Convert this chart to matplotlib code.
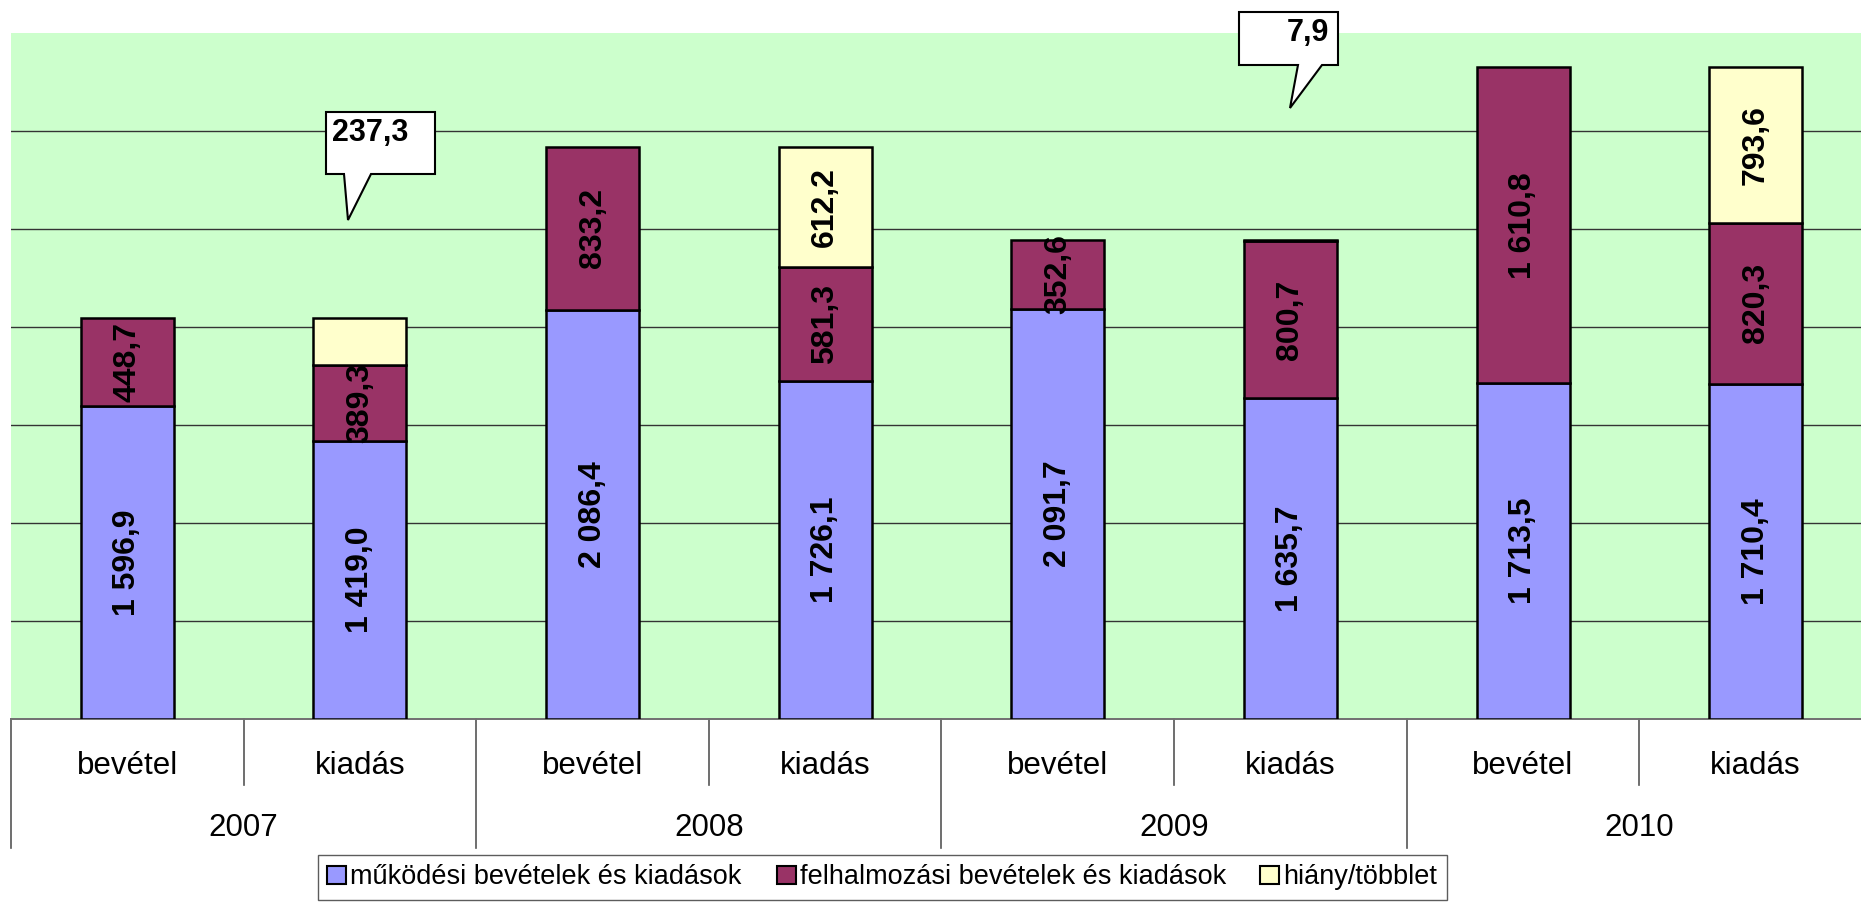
import matplotlib
matplotlib.use("Agg")
import matplotlib.pyplot as plt
from matplotlib.patches import Polygon, Patch
from matplotlib.transforms import blended_transform_factory

# data
years = ["2007", "2008", "2009", "2010"]
kinds = ["bevétel", "kiadás"]
mukodesi = [1596.9, 1419.0, 2086.4, 1726.1, 2091.7, 1635.7, 1713.5, 1710.4]
felhalmozasi = [448.7, 389.3, 833.2, 581.3, 352.6, 800.7, 1610.8, 820.3]
hiany = [0, 237.3, 0, 612.2, 0, 7.9, 0, 793.6]
series_names = ["működési bevételek és kiadások",
                "felhalmozási bevételek és kiadások",
                "hiány/többlet"]
colors = ["#9999FF", "#993366", "#FFFFCC"]

# small deficit values shown in speech-bubble callouts (image pixels)
callouts = {
    1: dict(box=(326, 112, 435, 174), base=(344, 371), tip=(348, 220), ha="left"),
    5: dict(box=(1239, 12, 1338, 65), base=(1298, 1322), tip=(1290, 108), ha="right"),
}

W, H = 1861, 902
plt.rcParams["font.family"] = ["Liberation Sans", "DejaVu Sans"]


def hu(v):
    return f"{v:,.1f}".replace(",", " ").replace(".", ",")


fig = plt.figure(figsize=(W / 100, H / 100), dpi=100)
fig.patch.set_facecolor("white")
ax = fig.add_axes([11 / W, 1 - 719 / H, 1861 / W, 686 / H])
ax.set_facecolor("#CCFFCC")

x = list(range(len(mukodesi)))
bar_w = 0.40
ax.bar(x, mukodesi, bar_w, color=colors[0], edgecolor="black", linewidth=1.8, zorder=3)
ax.bar(x, felhalmozasi, bar_w, bottom=mukodesi, color=colors[1],
       edgecolor="black", linewidth=1.8, zorder=3)
tops = [m + f for m, f in zip(mukodesi, felhalmozasi)]
hx = [i for i in x if hiany[i] > 0]
ax.bar(hx, [hiany[i] for i in hx], bar_w, bottom=[tops[i] for i in hx],
       color=colors[2], edgecolor="black", linewidth=1.8, zorder=3)

# labels inside segments
lab_kw = dict(rotation=90, ha="center", va="center", fontsize=23,
              fontweight="bold", zorder=5)
for i in x:
    ax.text(i, mukodesi[i] / 2, hu(mukodesi[i]), **lab_kw)
    ax.text(i, mukodesi[i] + felhalmozasi[i] / 2, hu(felhalmozasi[i]), **lab_kw)
    if hiany[i] > 0 and i not in callouts:
        ax.text(i, tops[i] + hiany[i] / 2, hu(hiany[i]), **lab_kw)

ax.set_xlim(-0.5, 7.5)
ax.set_ylim(0, 3500)
ax.set_yticks(range(500, 3500, 500))
ax.yaxis.grid(True, color="#333333", linewidth=1.0, zorder=1)
ax.tick_params(left=False, labelleft=False, bottom=False, labelbottom=False)
for s in ["top", "right", "left"]:
    ax.spines[s].set_visible(False)
ax.spines["bottom"].set_color("#707070")
ax.spines["bottom"].set_linewidth(1.4)

# two-level category axis
ah = 686.0
tr = blended_transform_factory(ax.transData, ax.transAxes)
for i in x:
    ax.text(i, -(766 - 719) / ah, kinds[i % 2], transform=tr, ha="center",
            va="center", fontsize=22.5, clip_on=False)
for k, yr in enumerate(years):
    ax.text(2 * k + 0.5, -(828 - 719) / ah, yr, transform=tr, ha="center",
            va="center", fontsize=22.5, clip_on=False)
for k in range(len(years)):
    ax.plot([2 * k + 0.5] * 2, [0, -(785 - 719) / ah], transform=tr,
            color="#555555", lw=1.2, clip_on=False)
for k in range(len(years) + 1):
    ax.plot([2 * k - 0.5] * 2, [0, -(848 - 719) / ah], transform=tr,
            color="#555555", lw=1.2, clip_on=False)


# callout bubbles
def px(p):
    return (p[0] / W, 1 - p[1] / H)


for i, c in callouts.items():
    x0, y0, x1, y1 = c["box"]
    b0, b1 = c["base"]
    pts = [(x0, y0), (x1, y0), (x1, y1), (b1, y1), c["tip"], (b0, y1), (x0, y1)]
    fig.patches.append(Polygon([px(p) for p in pts], closed=True,
                               transform=fig.transFigure, facecolor="white",
                               edgecolor="black", linewidth=1.5, zorder=10))
    tx = x0 + 6 if c["ha"] == "left" else x1 - 9
    fig.text(*px((tx, y0 + 21)), hu(hiany[i]), ha=c["ha"], va="center",
             fontsize=22, fontweight="bold", zorder=11)

handles = [Patch(facecolor=col, edgecolor="black", linewidth=1.5) for col in colors]
leg = fig.legend(handles, series_names, loc="upper left",
                 bbox_to_anchor=(318 / W, 1 - 855 / H), ncol=3, fontsize=19.5,
                 frameon=True, fancybox=False, borderaxespad=0, borderpad=0.35,
                 handlelength=0.7, handleheight=0.7, handletextpad=0.15,
                 columnspacing=1.28)
leg.get_frame().set_edgecolor("#333333")
leg.get_frame().set_linewidth(1.0)

fig.savefig("out.png", dpi=100, facecolor="white")
